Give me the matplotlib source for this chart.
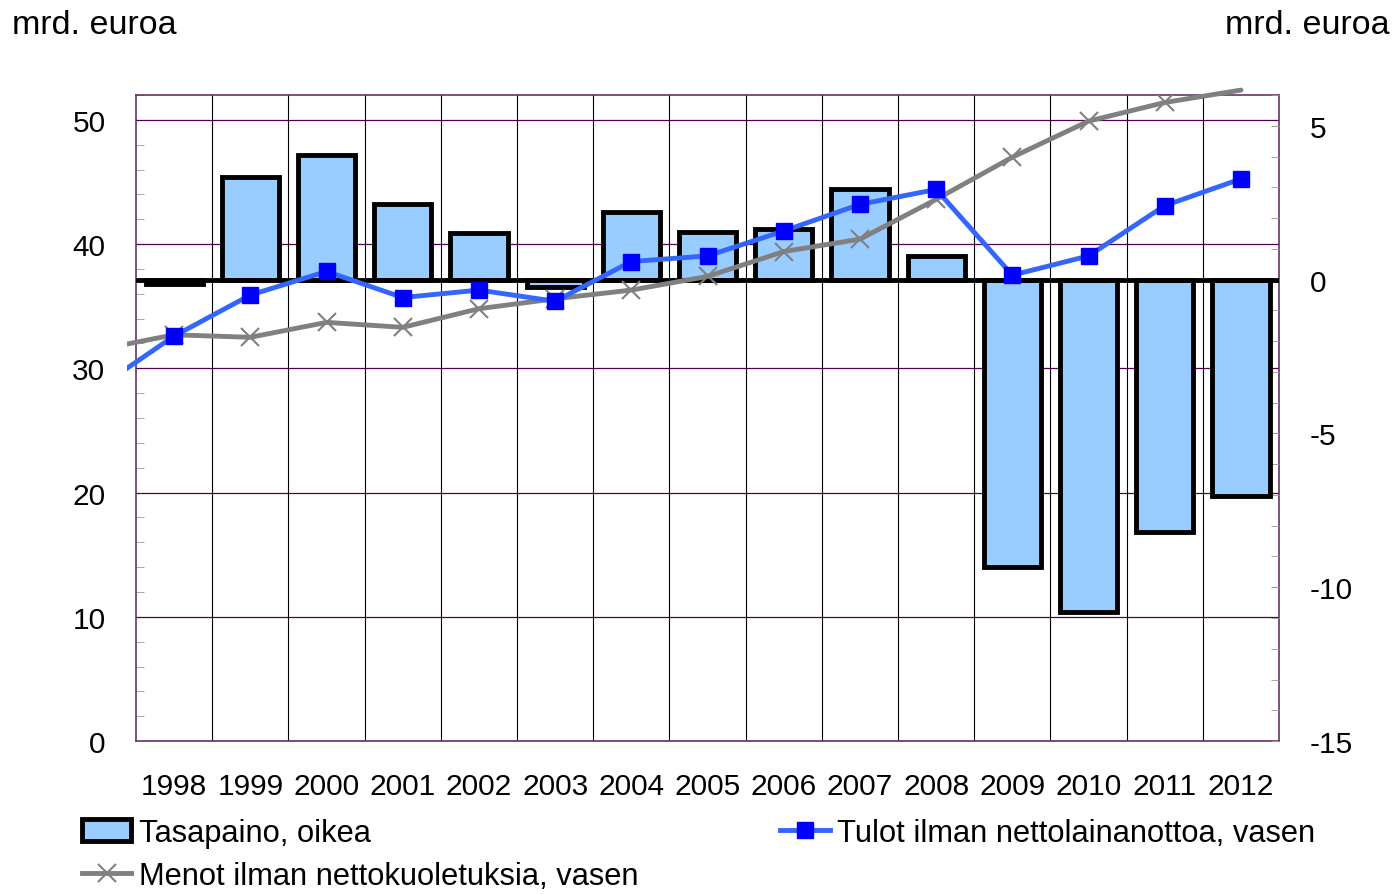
import matplotlib.pyplot as plt
from matplotlib.lines import Line2D
from matplotlib.patches import Patch, Rectangle
from matplotlib.ticker import MultipleLocator

plt.rcParams["font.family"] = ["Liberation Sans", "DejaVu Sans"]
plt.rcParams["font.size"] = 21.5
plt.rcParams["axes.unicode_minus"] = False

years = ["1998", "1999", "2000", "2001", "2002", "2003", "2004", "2005",
         "2006", "2007", "2008", "2009", "2010", "2011", "2012"]

# balance, right axis (bn euro)
balance = [-0.15, 3.35, 4.06, 2.47, 1.53, -0.23, 2.21, 1.56,
           1.63, 2.93, 0.78, -9.33, -10.8, -8.19, -7.02]

# revenue / expenditure, left axis; first value is 1997 (runs off the left edge)
revenue = [28.4, 32.6, 35.9, 37.8, 35.7, 36.3, 35.4, 38.6, 39.05,
           41.06, 43.2, 44.4, 37.5, 39.05, 43.1, 45.25]
expenditure = [31.5, 32.7, 32.5, 33.7, 33.3, 34.8, 35.6, 36.3, 37.4,
               39.4, 40.4, 43.6, 47.0, 49.9, 51.4, 52.4]

x = list(range(len(years)))
x_line = [-1] + x

purple = "#663366"

fig = plt.figure(figsize=(13.95, 8.95), dpi=100)
ax = fig.add_axes([0.0975, 0.1709, 0.8194, 0.7218])
ax_bar = ax.twinx()
ax_line = ax.twinx()

# host axis: left scale, grid
ax.set_xlim(-0.5, len(years) - 0.5)
ax.set_ylim(0, 52)
ax.yaxis.set_major_locator(MultipleLocator(10))
ax.yaxis.set_minor_locator(MultipleLocator(2))
ax.set_xticks(x)
ax.set_xticklabels(years)
ax.set_xticks([i + 0.5 for i in x[:-1]], minor=True)
ax.tick_params(axis="x", which="both", length=0, pad=22)
ax.tick_params(axis="y", which="major", length=0, pad=22)
ax.tick_params(axis="y", which="minor", direction="in", length=6, color="#999999")
ax.grid(axis="y", which="major", color="#500050", lw=0.9)
ax.grid(axis="x", which="minor", color="black", lw=0.8)
for s in ax.spines.values():
    s.set_color(purple)
    s.set_linewidth(1.2)

# bars on right scale
ax_bar.set_ylim(-15, 6)
ax_bar.yaxis.set_major_locator(MultipleLocator(5))
ax_bar.yaxis.set_minor_locator(MultipleLocator(1))
ax_bar.tick_params(axis="y", which="both", direction="in", length=6,
                   color="#999999", pad=22)
ax_bar.bar(x, balance, width=0.75, color="#99CCFF", edgecolor="black",
           linewidth=3.5, joinstyle="miter", zorder=2)
ax_bar.axhline(0, color="black", lw=3.5, zorder=3)
for s in ax_bar.spines.values():
    s.set_visible(False)

# lines on left scale
ax_line.set_ylim(0, 52)
ax_line.set_yticks([])
for s in ax_line.spines.values():
    s.set_visible(False)

clip = Rectangle((-0.008, -0.1), 1.02, 1.2, transform=ax_line.transAxes)
l1, = ax_line.plot(x_line, expenditure, color="#808080", lw=3.5,
                   solid_capstyle="round", zorder=4)
l1.set_clip_path(clip)
ax_line.plot(x, expenditure[1:], ls="none", marker="x", ms=13, mew=1.5,
             color="#808080", markevery=list(range(len(years) - 1)), zorder=4)
l2, = ax_line.plot(x_line, revenue, color="#3366FF", lw=3.5,
                   solid_capstyle="round", zorder=5)
l2.set_clip_path(clip)
ax_line.plot(x, revenue[1:], ls="none", marker="s", ms=11.5, color="#0000FF",
             zorder=5, clip_on=False)

fig.text(12 / 1395, 1 - 26 / 895, "mrd. euroa", ha="left", va="center",
         fontsize=24.5)
fig.text(1390 / 1395, 1 - 26 / 895, "mrd. euroa", ha="right", va="center",
         fontsize=24.5)

handles = [
    Patch(facecolor="#99CCFF", edgecolor="black", linewidth=3.5),
    Line2D([], [], color="#808080", lw=3.5, marker="x", ms=13, mew=1.5),
    Line2D([], [], color="#3366FF", lw=3.5, marker="s", ms=11.5,
           markerfacecolor="#0000FF", markeredgecolor="#0000FF"),
]
labels = ["Tasapaino, oikea", "Menot ilman nettokuoletuksia, vasen",
          "Tulot ilman nettolainanottoa, vasen"]
fig.legend(handles, labels, loc="upper left", fontsize=22.2,
           bbox_to_anchor=(82 / 1395, 1 - 819 / 895), ncol=2, frameon=False,
           borderpad=0, borderaxespad=0, handlelength=1.6, handleheight=0.7,
           handletextpad=0.25, labelspacing=0.42, columnspacing=4.6)

fig.savefig("out.png", dpi=100)
